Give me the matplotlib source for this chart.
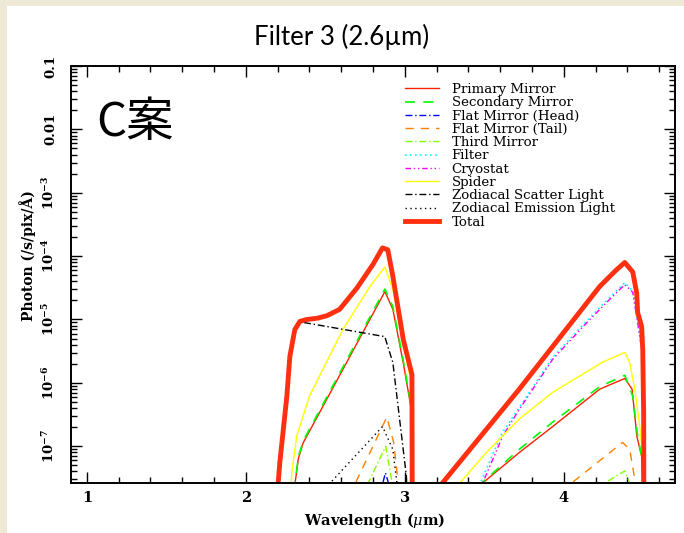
import matplotlib
matplotlib.use("Agg")
import matplotlib.pyplot as plt
from matplotlib.patches import Rectangle
from matplotlib.ticker import MultipleLocator, FixedLocator, LogLocator, NullFormatter
import numpy as np

plt.rcParams['mathtext.fontset'] = 'dejavuserif'

# wavelength (um) and log10 photon (/s/pix/A)
# left band (around 2.6um) and right band (around 4um) for each source
prim_x1 = [2.30, 2.31, 2.33, 2.36, 2.875, 2.925, 2.99, 3.044, 3.046]
prim_y1 = [-8.0, -7.58, -7.2, -6.95, -4.56, -4.84, -5.68, -6.46, -8.0]
prim_x2 = [3.29, 3.49, 3.72, 3.93, 4.226, 4.384, 4.43, 4.46, 4.49, 4.50]
prim_y2 = [-8.0, -7.58, -7.1, -6.69, -6.10, -5.93, -6.10, -6.84, -7.16, -8.0]

sec_x1 = [2.30, 2.31, 2.33, 2.36, 2.875, 2.925, 2.99, 3.044, 3.046]
sec_y1 = [-8.0, -7.58, -7.17, -6.92, -4.52, -4.80, -5.64, -6.42, -8.0]
sec_x2 = [3.28, 3.484, 3.72, 3.93, 4.226, 4.384, 4.434, 4.465, 4.497, 4.505]
sec_y2 = [-8.0, -7.58, -7.05, -6.62, -6.06, -5.88, -6.21, -6.84, -7.25, -8.0]

head_x1 = [2.845, 2.86, 2.878, 2.90, 2.915]
head_y1 = [-8.0, -7.6, -7.42, -7.6, -8.0]

tail_x1 = [2.61, 2.887, 2.93, 2.955, 2.965]
tail_y1 = [-8.0, -6.54, -6.94, -7.5, -8.0]
tail_x2 = [3.83, 4.05, 4.37, 4.415, 4.447, 4.46]
tail_y2 = [-8.0, -7.58, -6.94, -7.05, -7.52, -8.0]

third_x1 = [2.69, 2.88, 2.95]
third_y1 = [-8.0, -7.0, -8.0]
third_x2 = [3.98, 4.258, 4.384, 4.415, 4.425]
third_y2 = [-8.0, -7.58, -7.39, -7.58, -8.0]

filt_x2 = [3.42, 3.48, 3.61, 3.72, 3.93, 4.145, 4.27, 4.384, 4.434, 4.465, 4.49, 4.50, 4.505]
filt_y2 = [-8.0, -7.55, -6.80, -6.39, -5.60, -5.02, -4.70, -4.42, -4.55, -5.03, -5.45, -6.5, -8.0]

cryo_x2 = [3.43, 3.49, 3.616, 3.72, 3.93, 4.145, 4.27, 4.384, 4.434, 4.465, 4.49, 4.50, 4.505]
cryo_y2 = [-8.0, -7.58, -6.84, -6.42, -5.63, -5.05, -4.73, -4.45, -4.57, -5.05, -5.47, -6.5, -8.0]

spid_x1 = [2.275, 2.29, 2.32, 2.40, 2.61, 2.78, 2.875, 2.925, 3.044, 3.046]
spid_y1 = [-8.0, -7.4, -6.84, -6.21, -5.16, -4.48, -4.17, -4.53, -6.05, -8.0]
spid_x2 = [3.20, 3.346, 3.516, 3.72, 3.93, 4.24, 4.384, 4.415, 4.447, 4.478, 4.497, 4.505]
spid_y2 = [-8.0, -7.58, -7.09, -6.57, -6.15, -5.68, -5.52, -5.68, -6.10, -6.68, -7.16, -8.0]

scat_x1 = [2.19, 2.214, 2.258, 2.277, 2.308, 2.34, 2.37, 2.874, 2.925, 3.01, 3.02]
scat_y1 = [-8.0, -7.25, -6.21, -5.58, -5.16, -5.04, -5.05, -5.27, -5.68, -7.47, -8.0]

emis_x1 = [2.375, 2.86, 2.925, 2.95, 2.955]
emis_y1 = [-8.0, -6.69, -7.05, -7.58, -8.0]

tot_x1 = [2.19, 2.214, 2.258, 2.277, 2.308, 2.34, 2.383, 2.45, 2.51, 2.59, 2.70, 2.80,
          2.86, 2.893, 2.925, 2.99, 3.045, 3.047]
tot_y1 = [-8.0, -7.25, -6.21, -5.58, -5.16, -5.03, -5.0, -4.98, -4.94, -4.84, -4.50, -4.13,
          -3.87, -3.90, -4.32, -5.31, -5.87, -8.0]
tot_x2 = [3.10, 3.72, 4.226, 4.33, 4.384, 4.434, 4.459, 4.465, 4.49, 4.497, 4.503, 4.504]
tot_y2 = [-8.0, -6.10, -4.48, -4.22, -4.10, -4.25, -4.58, -4.89, -5.11, -5.47, -6.53, -8.0]

y_ticks = [1e-7, 1e-6, 1e-5, 1e-4, 1e-3, 0.01, 0.1]
y_labels = [r'$\mathbf{10^{-7}}$', r'$\mathbf{10^{-6}}$', r'$\mathbf{10^{-5}}$',
            r'$\mathbf{10^{-4}}$', r'$\mathbf{10^{-3}}$', '0.01', '0.1']
x_ticks = [1, 2, 3, 4]


def p(v):
    return 10.0 ** np.array(v)


fig = plt.figure(figsize=(6.84, 5.33), dpi=100)
fig.patch.set_facecolor('#eee8d6')
fig.patches.append(Rectangle((7 / 684, 0), 1, 1 - 6 / 533, transform=fig.transFigure,
                             facecolor='white', edgecolor='none', zorder=-5))

ax = fig.add_axes([71 / 684, 50 / 533, 604 / 684, 417 / 533])
ax.set_facecolor('white')

ax.plot(prim_x1, p(prim_y1), color='#ff2000', lw=1.0, label='Primary Mirror')
ax.plot(prim_x2, p(prim_y2), color='#ff2000', lw=1.0)
ax.plot(sec_x1, p(sec_y1), color='#00ff00', lw=1.2, ls=(0, (6, 5)), label='Secondary Mirror')
ax.plot(sec_x2, p(sec_y2), color='#00ff00', lw=1.2, ls=(0, (6, 5)))
ax.plot(head_x1, p(head_y1), color='#0000ff', lw=1.0, ls=(0, (5, 2, 1, 2)), label='Flat Mirror (Head)')
ax.plot(tail_x1, p(tail_y1), color='#ff8000', lw=1.0, ls=(0, (6, 5)), label='Flat Mirror (Tail)')
ax.plot(tail_x2, p(tail_y2), color='#ff8000', lw=1.0, ls=(0, (6, 5)))
ax.plot(third_x1, p(third_y1), color='#80ff00', lw=1.0, ls=(0, (5, 2, 1, 2)), label='Third Mirror')
ax.plot(third_x2, p(third_y2), color='#80ff00', lw=1.0, ls=(0, (5, 2, 1, 2)))
ax.plot(filt_x2, p(filt_y2), color='#00ffff', lw=1.2, ls=(0, (1, 2)), label='Filter')
ax.plot(cryo_x2, p(cryo_y2), color='#ff00ff', lw=1.0, ls=(0, (4, 2, 1, 2, 1, 2)), label='Cryostat')
ax.plot(spid_x1, p(spid_y1), color='#ffff00', lw=1.0, label='Spider')
ax.plot(spid_x2, p(spid_y2), color='#ffff00', lw=1.0)
ax.plot(scat_x1, p(scat_y1), color='black', lw=1.0, ls=(0, (5, 2, 1, 2)), label='Zodiacal Scatter Light')
ax.plot(emis_x1, p(emis_y1), color='black', lw=1.0, ls=(0, (1, 2.5)), label='Zodiacal Emission Light')
ax.plot(tot_x1, p(tot_y1), color='#ff3010', lw=3.5, label='Total', solid_joinstyle='round')
ax.plot(tot_x2, p(tot_y2), color='#ff3010', lw=3.5, solid_joinstyle='round')

ax.set_yscale('log')
ax.set_xlim(0.9, 4.7)
ax.set_ylim(2.63e-8, 0.1)

ax.xaxis.set_major_locator(FixedLocator(x_ticks))
ax.xaxis.set_minor_locator(MultipleLocator(0.2))
ax.set_xticklabels([str(t) for t in x_ticks], fontfamily='DejaVu Serif',
                   fontweight='bold', fontsize=10.5)
ax.yaxis.set_major_locator(FixedLocator(y_ticks))
ax.yaxis.set_minor_locator(LogLocator(base=10, subs=np.arange(2, 10)))
ax.yaxis.set_minor_formatter(NullFormatter())
ax.set_yticklabels(y_labels, fontfamily='DejaVu Serif', fontweight='bold',
                   fontsize=9.5, rotation=90, va='center')

ax.tick_params(which='both', direction='in', top=True, right=True, width=1.0)
ax.tick_params(which='major', length=8)
ax.tick_params(which='minor', length=4)
ax.tick_params(axis='x', pad=6)
ax.tick_params(axis='y', pad=10)
for s in ax.spines.values():
    s.set_linewidth(1.4)

ax.set_xlabel(r'Wavelength ($\mu$m)', fontfamily='DejaVu Serif', fontweight='bold', fontsize=10.5)
ax.xaxis.set_label_coords(0.503, -0.068)
ax.set_ylabel('Photon (/s/pix/Å)', fontfamily='DejaVu Serif', fontweight='bold', fontsize=10)
ax.yaxis.set_label_coords(-0.058, 0.545)

leg = ax.legend(loc='upper left', bbox_to_anchor=(405 / 684, 1 - 83 / 533),
                bbox_transform=fig.transFigure, frameon=False, borderpad=0,
                borderaxespad=0, handlelength=2.55, handletextpad=0.95,
                labelspacing=0.02, prop={'family': 'DejaVu Serif', 'size': 9.6})

fig.text(342 / 684, 1 - 37 / 533, 'Filter 3 (2.6µm)', ha='center', va='center',
         fontsize=18.5, family=['Lato', 'DejaVu Sans'])
fig.text(96 / 684, 1 - 136 / 533, 'C案', ha='left', va='baseline', fontsize=34,
         family=['Noto Sans CJK JP', 'DejaVu Sans'])

fig.savefig('out.png', dpi=100, facecolor=fig.get_facecolor())
